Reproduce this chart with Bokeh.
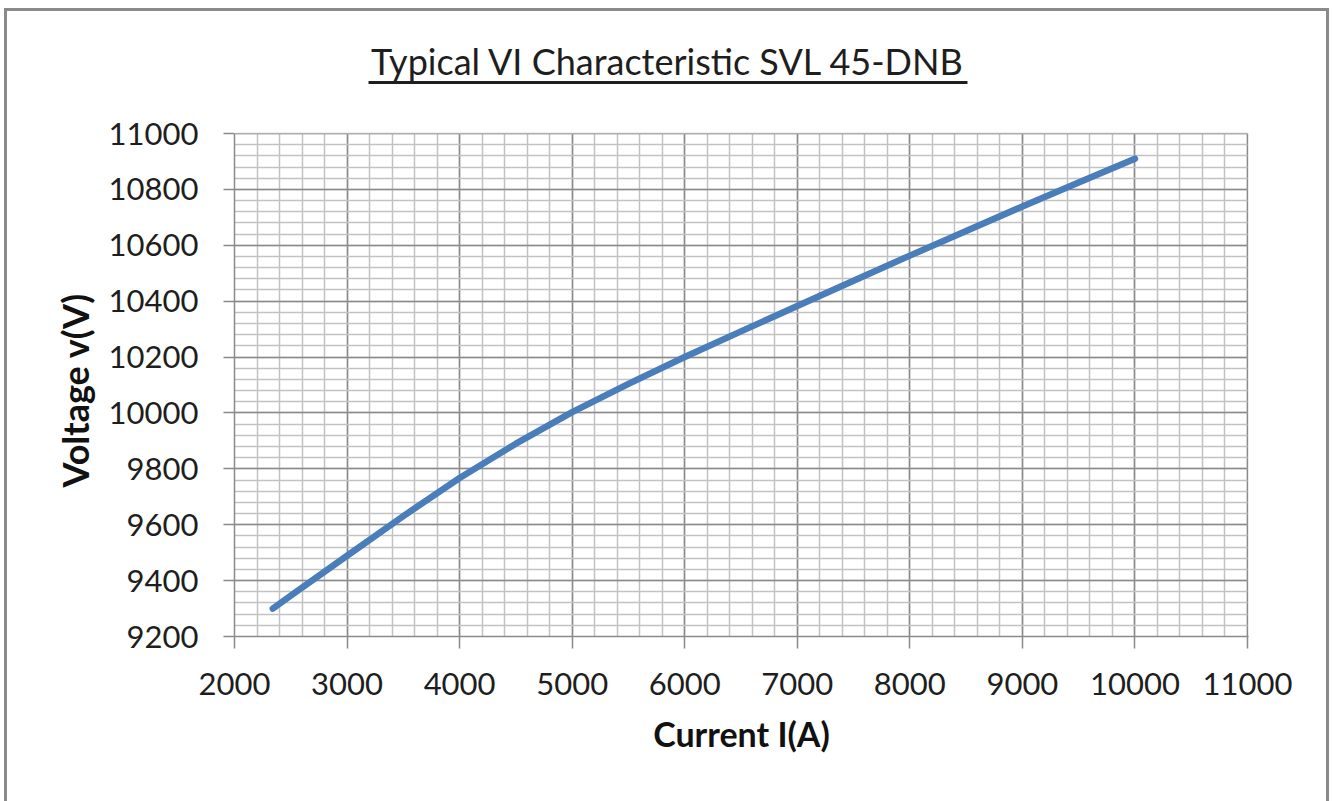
from bokeh.plotting import figure
from bokeh.models import Range1d, FixedTicker, Label, BoxAnnotation, Title
from bokeh.embed import file_html
from bokeh.resources import INLINE

# Data
current_a = [2340, 2500, 3000, 3500, 4000, 4500, 5000, 5500, 6000, 6500,
             7000, 7500, 8000, 8500, 9000, 9500, 10000]
voltage_v = [9300, 9346, 9489, 9631, 9767, 9890, 10003, 10104, 10200, 10292,
             10383, 10473, 10563, 10651, 10739, 10825, 10910]

x_ticks = [2000, 3000, 4000, 5000, 6000, 7000, 8000, 9000, 10000, 11000]
y_ticks = [9200, 9400, 9600, 9800, 10000, 10200, 10400, 10600, 10800, 11000]
x_minor = list(range(2000, 11001, 200))
y_minor = list(range(9200, 11001, 40))

title_text = "Typical VI Characteristic SVL 45-DNB"
x_label = "Current I(A)"
y_label = "Voltage v(V)"

FONT = "Lato"
GRID_MAJOR = "#8a8a8a"
GRID_MINOR = "#c2c2c2"
TEXT = "#1e1e1e"

# ---- layout (pixel geometry of the plot area) ----
W, H = 1333, 801
PL, PR, PT, PB = 234, 1247, 133, 636      # plot-area edges on the page
FRAME_TOP = 24                              # frame extends up to hold the title
XMIN, XMAX = x_ticks[0], x_ticks[-1]
YMIN, YMAX = y_ticks[0], y_ticks[-1]
ux = (XMAX - XMIN) / (PR - PL)              # data units per pixel
uy = (YMAX - YMIN) / (PB - PT)

def px_x(px):
    return XMIN + (px - PL) * ux

def px_y(py):
    return YMIN + (PB - py) * uy

border_bg = ", ".join([
    "linear-gradient(#8a8a8a,#8a8a8a) 4px 8px / 3px calc(100% - 8px) no-repeat",
    "linear-gradient(#8a8a8a,#8a8a8a) 4px 8px / calc(100% - 8px) 3px no-repeat",
    "linear-gradient(#8a8a8a,#8a8a8a) right 4px top 8px / 3px calc(100% - 8px) no-repeat",
    "white",
])

p = figure(width=W, height=H, output_backend="svg", toolbar_location=None,
           x_range=Range1d(XMIN, px_x(PR + 1)),
           y_range=Range1d(YMIN, px_y(FRAME_TOP)),
           min_border_left=PL, min_border_right=W - PR - 1,
           min_border_top=FRAME_TOP, min_border_bottom=H - PB,
           styles={"background": border_bg})

p.background_fill_color = "white"
p.border_fill_color = None
p.outline_line_color = None

# grids
for ax_grid, ticks, minors, cross in ((p.xgrid, x_ticks, x_minor, (YMIN, YMAX)),
                                      (p.ygrid, y_ticks, y_minor, (XMIN, XMAX))):
    g = ax_grid[0]
    g.ticker = FixedTicker(ticks=ticks, minor_ticks=minors)
    g.grid_line_color = GRID_MAJOR
    g.grid_line_width = 1.5
    g.minor_grid_line_color = GRID_MINOR
    g.minor_grid_line_width = 1.5
    if "cross_bounds" in g.properties():
        g.cross_bounds = cross

# axes
p.xaxis.ticker = FixedTicker(ticks=x_ticks)
p.yaxis.ticker = FixedTicker(ticks=y_ticks)
p.yaxis.bounds = (YMIN, YMAX)
for ax in (p.xaxis[0], p.yaxis[0]):
    ax.axis_line_color = GRID_MAJOR
    ax.axis_line_width = 1.5
    ax.major_tick_line_color = GRID_MAJOR
    ax.major_tick_line_width = 1.5
    ax.major_tick_in = 0
    ax.minor_tick_line_color = None
    ax.major_label_text_font = FONT
    ax.major_label_text_font_size = "31px"
    ax.major_label_text_color = TEXT

p.xaxis.major_tick_out = 12
p.yaxis.major_tick_out = 11
p.xaxis.major_label_standoff = 24
p.yaxis.major_label_standoff = 25

p.xaxis.axis_label = x_label
p.xaxis.axis_label_text_font = FONT
p.xaxis.axis_label_text_font_size = "34px"
p.xaxis.axis_label_text_font_style = "bold"
p.xaxis.axis_label_text_color = "#111111"
p.xaxis.axis_label_standoff = 15

# y-axis label as a side title, positioned along the plot area
ylab = Title(text=y_label, align="left", offset=PB - 487,
             text_font=FONT, text_font_size="36px", text_font_style="bold",
             text_color="#111111", standoff=18)
p.add_layout(ylab, "left")

# series
p.line(current_a, voltage_v, line_color="#4a7ebb", line_width=6.5,
       line_cap="round", line_join="round")

# white mask above the plot area (frame is taller to host the title)
mask = BoxAnnotation(bottom=px_y(PT - 1), fill_color="white", fill_alpha=1.0,
                     line_color="white", line_width=3)
p.add_layout(mask)

# title with underline
title = Label(x=px_x(667.5), y=px_y(60), text=title_text, text_font=FONT,
              text_font_size="36px", text_color=TEXT,
              text_align="center", text_baseline="alphabetic")
p.add_layout(title)
underline = BoxAnnotation(left=px_x(368), right=px_x(967),
                          bottom=px_y(83.5), top=px_y(80.5),
                          fill_color=TEXT, fill_alpha=1.0, line_color=None)
p.add_layout(underline)

open("out.html", "w").write(file_html(p, INLINE))
